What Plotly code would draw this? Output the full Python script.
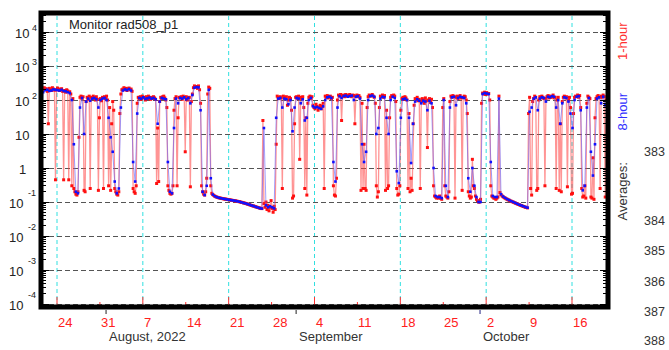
import numpy as np
import pandas as pd
import plotly.graph_objects as go

# ---------------- data ----------------
# 1-hour averages, one value every 4 hours starting 2022-07-21 10:00
red_1hour = [
    0.12, 190, 210, 230, 200, 215, 180, 20, 220, 200,
    190, 230, 210, 195, 0.45, 200, 225, 210, 190, 205,
    215, 180, 0.45, 190, 170, 200, 185, 0.45, 175, 150,
    0.3, 110, 0.25, 0.2, 0.17, 0.16, 0.2, 8, 120, 130,
    110, 125, 0.22, 0.2, 90, 120, 105, 130, 0.25, 120,
    110, 130, 115, 100, 125, 105, 0.22, 30, 110, 95,
    120, 0.25, 125, 110, 130, 100, 0.3, 60, 0.22, 20,
    90, 50, 0.25, 0.2, 0.17, 0.16, 0.2, 40, 150, 200,
    210, 230, 200, 220, 190, 215, 225, 200, 210, 180,
    0.25, 0.2, 0.18, 0.3, 80, 120, 110, 125, 105, 130,
    115, 120, 100, 125, 110, 130, 115, 105, 120, 110,
    125, 115, 105, 0.35, 15, 0.4, 90, 120, 110, 125,
    130, 115, 100, 60, 0.3, 0.22, 0.18, 0.17, 0.18, 0.3,
    50, 110, 125, 0.3, 30, 120, 115, 125, 105, 130,
    120, 3, 125, 100, 115, 120, 0.28, 90, 150, 230,
    260, 240, 250, 220, 260, 200, 80, 0.3, 0.2, 0.17,
    0.16, 0.2, 0.5, 150, 240, 220, 0.3, 0.18, 0.165, 0.155,
    0.148, 0.143, 0.139, 0.136, 0.133, 0.131, 0.129, 0.127, 0.125, 0.123,
    0.122, 0.121, 0.119, 0.118, 0.116, 0.115, 0.113, 0.112, 0.111, 0.109,
    0.108, 0.106, 0.105, 0.103, 0.102, 0.1, 0.098, 0.097, 0.094, 0.093,
    0.091, 0.089, 0.087, 0.085, 0.083, 0.081, 0.079, 0.077, 0.076, 0.074,
    0.072, 0.071, 0.069, 0.068, 0.066, 0.065, 0.064, 25, 0.09, 0.07,
    0.1, 0.06, 0.08, 0.055, 0.07, 0.11, 0.065, 0.05, 0.075, 0.06,
    5, 130, 120, 110, 125, 115, 0.25, 130, 120, 110,
    125, 70, 100, 120, 110, 50, 0.13, 0.15, 20, 120,
    125, 110, 130, 1.8, 120, 110, 125, 60, 0.25, 30,
    0.16, 80, 120, 130, 110, 125, 70, 60, 55, 75,
    65, 50, 60, 70, 55, 65, 80, 0.25, 130, 120,
    135, 115, 125, 130, 110, 120, 0.3, 0.16, 0.15, 0.5,
    100, 140, 130, 145, 25, 135, 140, 125, 145, 130,
    140, 135, 145, 130, 125, 140, 135, 20, 130, 140,
    125, 135, 120, 0.22, 80, 0.25, 5, 0.25, 0.22, 60,
    125, 140, 130, 135, 145, 130, 120, 80, 0.3, 0.14,
    0.2, 60, 130, 125, 140, 120, 135, 0.22, 50, 0.25,
    0.3, 30, 120, 135, 125, 140, 130, 90, 0.25, 0.16,
    0.17, 0.3, 50, 110, 120, 105, 125, 115, 100, 0.25,
    40, 0.2, 0.5, 0.22, 20, 70, 110, 100, 120, 95,
    105, 0.25, 90, 110, 100, 80, 115, 95, 4, 100,
    110, 85, 105, 60, 0.3, 0.15, 0.14, 0.13, 0.14, 0.13,
    0.15, 0.13, 0.12, 60, 110, 0.3, 0.15, 0.14, 0.13, 0.2,
    90, 130, 120, 135, 125, 0.13, 120, 130, 110, 125,
    135, 115, 0.22, 120, 130, 125, 100, 40, 0.2, 0.15,
    0.13, 0.14, 1.8, 0.3, 0.25, 0.15, 0.12, 0.11, 0.1, 0.1,
    0.12, 80, 160, 150, 170, 145, 165, 150, 155, 100,
    0.3, 0.15, 0.14, 0.13, 0.13, 0.12, 0.13, 0.14, 130, 0.19,
    0.165, 0.152, 0.143, 0.136, 0.13, 0.125, 0.12, 0.116, 0.112, 0.108,
    0.105, 0.102, 0.099, 0.096, 0.093, 0.09, 0.088, 0.085, 0.083, 0.08,
    0.078, 0.076, 0.074, 0.072, 0.07, 0.069, 0.067, 40, 120, 0.25,
    0.16, 90, 110, 130, 120, 0.22, 0.25, 100, 125, 115,
    130, 120, 110, 0.3, 110, 125, 135, 115, 130, 120,
    125, 140, 115, 120, 0.25, 100, 120, 0.22, 20, 0.2,
    90, 120, 130, 115, 125, 0.28, 100, 120, 60, 0.17,
    0.18, 40, 120, 130, 125, 140, 120, 135, 60, 0.25,
    0.14, 0.15, 0.3, 0.13, 80, 130, 120, 110, 0.14, 0.13,
    2, 0.12, 30, 110, 125, 135, 120, 0.25, 130, 120,
    140, 125, 0.14, 100, 130,
]

# 8-hour averages, one value every 8 hours starting 2022-07-21 10:00
blue_8hour = [
    30, 170, 195, 200, 185, 190, 205, 200, 195, 190,
    200, 185, 180, 170, 160, 100, 5, 0.2, 0.18, 60,
    115, 10, 90, 110, 95, 110, 115, 105, 60, 100,
    110, 115, 100, 30, 8, 3, 0.4, 0.18, 0.25, 60,
    190, 205, 195, 210, 190, 1.5, 0.4, 40, 115, 110,
    120, 108, 112, 118, 110, 115, 105, 20, 90, 115,
    110, 105, 1.5, 0.2, 0.18, 15, 110, 80, 115, 110,
    120, 105, 115, 80, 140, 230, 240, 235, 50, 0.2,
    0.16, 0.3, 200, 0.5, 0.165, 0.148, 0.139, 0.133, 0.129, 0.125,
    0.122, 0.119, 0.116, 0.113, 0.111, 0.108, 0.105, 0.102, 0.098, 0.094,
    0.091, 0.087, 0.083, 0.079, 0.076, 0.072, 0.069, 0.066, 0.064, 15,
    0.08, 0.07, 0.075, 0.07, 0.065, 30, 110, 115, 60, 110,
    105, 75, 100, 12, 60, 115, 110, 80, 105, 25,
    30, 100, 115, 65, 60, 62, 58, 55, 65, 100,
    120, 125, 115, 1.5, 0.4, 60, 130, 115, 130, 135,
    125, 130, 135, 100, 125, 130, 110, 5, 1.5, 3,
    100, 130, 135, 125, 10, 15, 110, 125, 120, 30,
    10, 100, 125, 115, 0.8, 0.36, 30, 105, 110, 100,
    30, 1.4, 20, 90, 105, 95, 80, 95, 90, 50,
    95, 80, 1, 0.15, 0.14, 0.14, 0.13, 100, 0.3, 0.14,
    60, 120, 125, 70, 115, 125, 120, 115, 80, 0.5,
    0.2, 1.0, 0.3, 0.14, 0.1, 0.1, 150, 160, 155, 150,
    1.5, 0.15, 0.14, 0.14, 110, 0.17, 0.145, 0.132, 0.122, 0.114,
    0.106, 0.1, 0.094, 0.088, 0.083, 0.079, 0.075, 0.071, 0.068, 45,
    60, 110, 120, 50, 110, 120, 115, 90, 125, 120,
    130, 125, 60, 100, 20, 80, 120, 115, 90, 40,
    15, 100, 125, 130, 50, 0.22, 0.3, 60, 115, 3,
    0.6, 5, 110, 120, 80, 125, 70, 115,
]

start_time = "2022-07-21 10:00"
week_ticks = ["2022-07-24", "2022-07-31", "2022-08-07", "2022-08-14", "2022-08-21",
              "2022-08-28", "2022-09-04", "2022-09-11", "2022-09-18", "2022-09-25",
              "2022-10-02", "2022-10-09", "2022-10-16"]
day_labels = ["24", "31", "7", "14", "21", "28", "4", "11", "18", "25", "2", "9", "16"]
month_starts = ["2022-08-01", "2022-09-01", "2022-10-01"]
month_labels = ["August, 2022", "September", "October"]
decades = [-4, -3, -2, -1, 0, 1, 2, 3, 4]
right_numbers = ["383", "384", "385", "386", "387", "388"]

# ---------------- figure ----------------
W, H = 669, 350
L, R, T, B = 41, 61, 13, 43
PW, PH = W - L - R, H - T - B
FONT = "Liberation Sans, Arial, sans-serif"
RED = "#ff2020"

def xp(px):
    return (px - L) / PW

def yp(py):
    return (H - B - py) / PH

t0 = pd.Timestamp(start_time)
red_time = t0 + pd.to_timedelta(4 * np.arange(len(red_1hour)), unit="h")
blue_time = t0 + pd.to_timedelta(8 * np.arange(len(blue_8hour)), unit="h")

fig = go.Figure()
fig.add_trace(go.Scatter(
    x=red_time, y=red_1hour, mode="lines+markers",
    line=dict(color="rgba(255,60,60,0.55)", width=1.3),
    marker=dict(color="#ff1010", size=3, symbol="square", line=dict(width=0)),
    showlegend=False, hoverinfo="skip"))
fig.add_trace(go.Scatter(
    x=blue_time, y=blue_8hour, mode="lines+markers",
    line=dict(color="rgba(100,100,255,0.6)", width=1),
    marker=dict(color="#1010ff", size=2.6, symbol="square", line=dict(width=0)),
    showlegend=False, hoverinfo="skip"))

shapes = []
# cyan dashed verticals every two weeks
for d in week_ticks[::2]:
    shapes.append(dict(type="line", xref="x", yref="paper", x0=d, x1=d, y0=0, y1=1,
                       line=dict(color="#30e0e0", width=1, dash="4px,3px"), layer="below"))
# red tick marks at the bottom
for k, d in enumerate(week_ticks):
    hgt = 10 if k % 2 == 0 else 5
    shapes.append(dict(type="line", xref="x", yref="paper", x0=d, x1=d, y0=0, y1=hgt / PH,
                       line=dict(color="#ff3030", width=1), layer="above"))
# month ticks below the axis
for d, c in zip(month_starts, ["#222", "#222", "#202080"]):
    shapes.append(dict(type="line", xref="x", yref="paper", x0=d, x1=d, y0=-3 / PH, y1=-7 / PH,
                       line=dict(color=c, width=1), layer="above"))
# thick frame
shapes.append(dict(type="rect", xref="paper", yref="paper", x0=0, x1=1, y0=0, y1=1,
                   line=dict(color="black", width=5), layer="above"))

ann = []
ann.append(dict(text="Monitor rad508_p1", xref="paper", yref="paper", x=xp(67), y=yp(24),
                xanchor="left", yanchor="middle", showarrow=False,
                font=dict(family=FONT, size=13, color="#222")))
# y tick labels
for k in decades:
    if k >= 2:
        ann.append(dict(text="10", xref="paper", yref="y", x=xp(21.7), y=k, yshift=-1,
                        xanchor="center", yanchor="middle", showarrow=False,
                        font=dict(family=FONT, size=13, color="#222")))
        ann.append(dict(text=str(k), xref="paper", yref="y", x=xp(34), y=k, yshift=4,
                        xanchor="center", yanchor="middle", showarrow=False,
                        font=dict(family=FONT, size=9, color="#222")))
    elif k == 1:
        ann.append(dict(text="10", xref="paper", yref="y", x=xp(21.7), y=k, yshift=-1,
                        xanchor="center", yanchor="middle", showarrow=False,
                        font=dict(family=FONT, size=13, color="#222")))
    elif k == 0:
        ann.append(dict(text="1", xref="paper", yref="y", x=xp(22.5), y=k, yshift=-1,
                        xanchor="center", yanchor="middle", showarrow=False,
                        font=dict(family=FONT, size=13, color="#222")))
    else:
        ann.append(dict(text="10", xref="paper", yref="y", x=xp(15.5), y=k, yshift=-1.5,
                        xanchor="center", yanchor="middle", showarrow=False,
                        font=dict(family=FONT, size=13, color="#222")))
        ann.append(dict(text=str(k), xref="paper", yref="y", x=xp(31.5), y=k, yshift=9.5,
                        xanchor="center", yanchor="middle", showarrow=False,
                        font=dict(family=FONT, size=9, color="#222")))
# x day labels
for d, lab in zip(week_ticks, day_labels):
    ann.append(dict(text=lab, xref="x", yref="paper", x=d, y=yp(322), xshift=-1,
                    xanchor="left", yanchor="middle", showarrow=False,
                    font=dict(family=FONT, size=13, color=RED)))
for d, lab in zip(month_starts, month_labels):
    ann.append(dict(text=lab, xref="x", yref="paper", x=d, y=yp(336.5), xshift=1,
                    xanchor="left", yanchor="middle", showarrow=False,
                    font=dict(family=FONT, size=13, color="#333")))
# right side texts
for txt, cy, col in [("1-hour", 41, "#ff3030"), ("8-hour", 111.5, "#3030ff"),
                     ("Averages:", 191.5, "#333")]:
    ann.append(dict(text=txt, xref="paper", yref="paper", x=xp(622), y=yp(cy),
                    textangle=-90, xanchor="center", yanchor="middle", showarrow=False,
                    font=dict(family=FONT, size=13, color=col)))
for txt, cy in zip(right_numbers, [152, 221, 251, 282, 312, 341]):
    ann.append(dict(text=txt, xref="paper", yref="paper", x=xp(667), y=yp(cy),
                    xanchor="right", yanchor="middle", showarrow=False,
                    font=dict(family=FONT, size=12.5, color="#333")))

fig.update_layout(
    width=W, height=H, autosize=False,
    margin=dict(l=L, r=R, t=T, b=B, pad=0),
    paper_bgcolor="white", plot_bgcolor="white",
    hovermode=False, showlegend=False,
    shapes=shapes, annotations=ann,
    xaxis=dict(type="date", range=["2022-07-21 09:22", "2022-10-21 20:53"],
               showgrid=False, zeroline=False, showline=False,
               showticklabels=False, ticks=""),
    yaxis=dict(type="log", range=[-4.088, 4.559],
               tickmode="array", tickvals=[10.0 ** k for k in decades],
               showticklabels=False, ticks="inside", ticklen=8, tickwidth=1,
               tickcolor="black", mirror="allticks",
               showgrid=True, gridcolor="#555", gridwidth=1, griddash="5px,3px",
               zeroline=False, showline=False,
               minor=dict(ticks="inside", ticklen=5, tickcolor="black",
                          dtick="D1", showgrid=False)),
)

fig.write_html("out.html")
